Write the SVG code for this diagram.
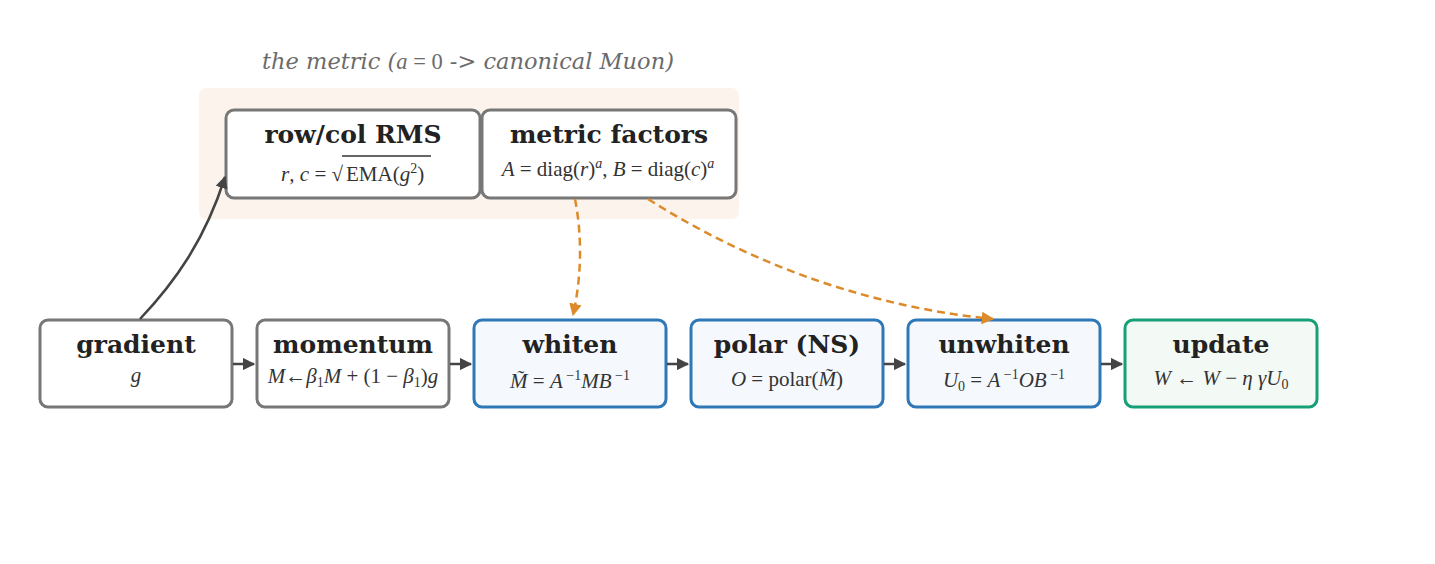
<svg xmlns="http://www.w3.org/2000/svg" width="1435" height="564" viewBox="0 0 1435 564">
<defs>
<style>
.lbl{font-family:"DejaVu Serif","Liberation Serif",serif;font-weight:bold;font-size:25px;fill:#222;text-anchor:middle}
.m{font-family:"Liberation Serif","DejaVu Serif",serif;font-size:21px;fill:#333;text-anchor:middle}
.i{font-style:italic}
.sup{font-size:14px}
.gray{fill:#fff;stroke:#777;stroke-width:3}
.blue{fill:#f5f9fd;stroke:#2f78b7;stroke-width:3}
.green{fill:#f3f9f5;stroke:#17a077;stroke-width:3}
.flow{fill:none;stroke:#444;stroke-width:2.5}
.dash{fill:none;stroke:#dd8a2a;stroke-width:2.5;stroke-dasharray:8 5}
</style>
<marker id="ah" viewBox="0 0 10 10" refX="9" refY="5" markerWidth="5" markerHeight="5" orient="auto" markerUnits="strokeWidth"><path d="M0,0 L10,5 L0,10 z" fill="#444"/></marker>
<marker id="ao" viewBox="0 0 10 10" refX="9" refY="5" markerWidth="5" markerHeight="5" orient="auto" markerUnits="strokeWidth"><path d="M0,0 L10,5 L0,10 z" fill="#dd8a2a"/></marker>
</defs>
<rect width="1435" height="564" fill="#fff"/>
<g id="cluster">
<rect x="199" y="88" width="540" height="131" rx="7" fill="#fbf3ec"/>
<text x="468" y="69" font-family="'DejaVu Serif','Liberation Serif',serif" font-size="22.5" font-style="italic" fill="#6b6b6b" text-anchor="middle">the metric (<tspan font-family="'Liberation Serif',serif">a</tspan><tspan font-family="'Liberation Serif',serif" font-style="normal"> = 0</tspan> -&gt; canonical Muon)</text>
</g>
<g id="n-rms">
<rect class="gray" x="226" y="110" width="254" height="88" rx="8"/>
<text class="lbl" x="353" y="143">row/col RMS</text>
<text class="m" x="343" y="181" style="text-anchor:end"><tspan class="i">r</tspan>, <tspan class="i">c</tspan> = √</text>
<line x1="342" y1="156" x2="431" y2="156" stroke="#333" stroke-width="1.3"/>
<text class="m" x="346" y="181" style="text-anchor:start">EMA(<tspan class="i">g</tspan><tspan class="sup" dy="-8">2</tspan><tspan dy="8">)</tspan></text>
</g>
<g id="n-factors">
<rect class="gray" x="482" y="110" width="254" height="88" rx="8"/>
<text class="lbl" x="609" y="143">metric factors</text>
<text class="m" x="608" y="176" font-size="20"><tspan class="i">A</tspan> = diag(<tspan class="i">r</tspan>)<tspan class="sup i" dy="-8">a</tspan><tspan dy="8">,  </tspan><tspan class="i">B</tspan> = diag(<tspan class="i">c</tspan>)<tspan class="sup i" dy="-8">a</tspan></text>
</g>
<g id="n-gradient">
<rect class="gray" x="40" y="320" width="192" height="87" rx="8"/>
<text class="lbl" x="136" y="353">gradient</text>
<text class="m i" x="136" y="382">g</text>
</g>
<g id="n-momentum">
<rect class="gray" x="257" y="320" width="192" height="87" rx="8"/>
<text class="lbl" x="353" y="353">momentum</text>
<text class="m" x="353" y="383" font-size="19"><tspan class="i">M</tspan>←<tspan class="i">β</tspan><tspan class="sup" dy="4">1</tspan><tspan class="i" dy="-4">M</tspan> + (1 − <tspan class="i">β</tspan><tspan class="sup" dy="4">1</tspan><tspan dy="-4">)</tspan><tspan class="i">g</tspan></text>
</g>
<g id="n-whiten">
<rect class="blue" x="474" y="320" width="192" height="87" rx="8"/>
<text class="lbl" x="570" y="353">whiten</text>
<text class="m" x="570" y="388"><tspan class="i">M̃</tspan> = <tspan class="i">A</tspan><tspan class="sup" dy="-8"> −1</tspan><tspan class="i" dy="8">MB</tspan><tspan class="sup" dy="-8"> −1</tspan></text>
</g>
<g id="n-polar">
<rect class="blue" x="691" y="320" width="192" height="87" rx="8"/>
<text class="lbl" x="787" y="353">polar (NS)</text>
<text class="m" x="787" y="386"><tspan class="i">O</tspan> = polar(<tspan class="i">M̃</tspan>)</text>
</g>
<g id="n-unwhiten">
<rect class="blue" x="908" y="320" width="192" height="87" rx="8"/>
<text class="lbl" x="1004" y="353">unwhiten</text>
<text class="m" x="1004" y="387"><tspan class="i">U</tspan><tspan class="sup" dy="4">0</tspan><tspan dy="-4"> = </tspan><tspan class="i">A</tspan><tspan class="sup" dy="-8"> −1</tspan><tspan class="i" dy="8">OB</tspan><tspan class="sup" dy="-8"> −1</tspan></text>
</g>
<g id="n-update">
<rect class="green" x="1125" y="320" width="192" height="87" rx="8"/>
<text class="lbl" x="1221" y="353">update</text>
<text class="m" x="1221" y="385"><tspan class="i">W</tspan> ← <tspan class="i">W</tspan> − <tspan class="i">η γU</tspan><tspan class="sup" dy="4">0</tspan></text>
</g>
<g id="connectors">
<path class="flow" d="M140,319 C175,282 205,240 225,177" marker-end="url(#ah)"/>
<path class="flow" d="M233,364 L254,364" marker-end="url(#ah)"/>
<path class="flow" d="M450,364 L471,364" marker-end="url(#ah)"/>
<path class="flow" d="M667,364 L688,364" marker-end="url(#ah)"/>
<path class="flow" d="M884,364 L905,364" marker-end="url(#ah)"/>
<path class="flow" d="M1101,364 L1122,364" marker-end="url(#ah)"/>
<path class="dash" d="M575,199 C582,235 582,275 573,315" marker-end="url(#ao)"/>
<path class="dash" d="M648,199 C760,270 880,308 993,319" marker-end="url(#ao)"/>
</g>
</svg>
